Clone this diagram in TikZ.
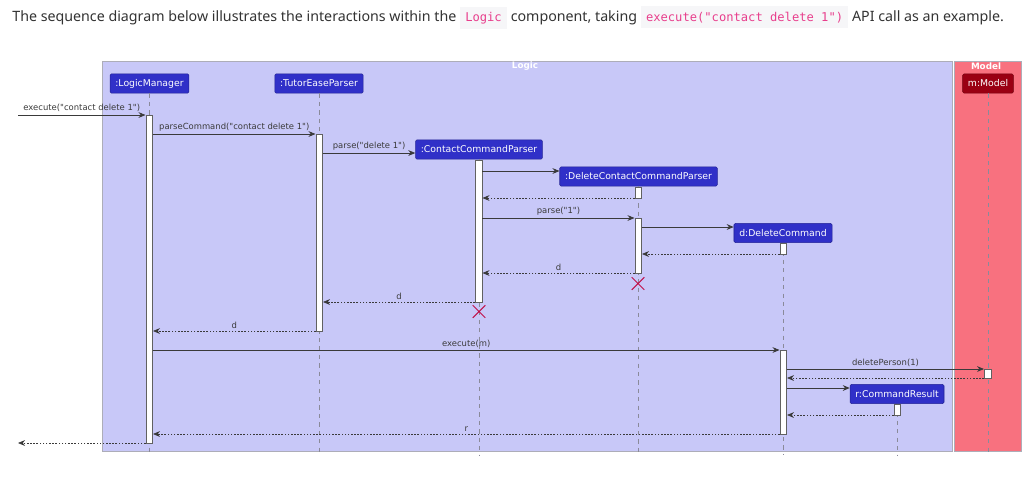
\documentclass[tikz,border=0pt]{standalone}
\usepackage{fontspec}
\setmainfont{Noto Sans}
\newfontfamily\umlfont{DejaVu Sans}
\newfontfamily\codefont{DejaVu Sans Mono}
\usetikzlibrary{arrows.meta,positioning,fit,shapes.misc}
\definecolor{seqink}{HTML}{3A3A3A}
\definecolor{seqhead}{HTML}{333333}
\definecolor{seqlogic}{HTML}{C8C8F8}
\definecolor{seqmodel}{HTML}{F8717F}
\definecolor{seqpart}{HTML}{3030C8}
\definecolor{seqmpart}{HTML}{9A0013}
\definecolor{seqkill}{HTML}{C0104A}
\definecolor{seqlife}{HTML}{8A8A9A}
\definecolor{codepink}{HTML}{E83E8C}
\definecolor{codebg}{HTML}{F6F6F8}
\newcommand{\codebit}[1]{{\setlength{\fboxsep}{3pt}\colorbox{codebg}{\codefont\fontsize{6.9}{8}\selectfont\color{codepink}#1}}}

\begin{document}
\begin{tikzpicture}[x=0.02cm,y=-0.02cm,line cap=butt,
  font=\umlfont\fontsize{4.8}{5.8}\selectfont,text=seqink,
  >={Stealth[length=4pt,width=3.3pt,inset=1.3pt]},
  part/.style={fill=seqpart,draw=seqpart!75!black,line width=0.3pt,rounded corners=0.8pt,
    text=white,font=\umlfont\fontsize{5.3}{6}\selectfont,inner xsep=3pt,inner ysep=0pt,minimum height=11pt},
  act/.style={fill=white,draw=seqink!80,line width=0.55pt,inner sep=0pt},
  life/.style={seqlife,line width=0.45pt,dash pattern=on 2.4pt off 2.4pt},
  msg/.style={->,seqink,line width=0.5pt},
  ret/.style={->,seqink,line width=0.45pt,dash pattern=on 0.9pt off 0.9pt},
  lbl/.style={midway,above,inner sep=1.4pt},
  kill/.style={cross out,draw=seqkill,line width=0.6pt,minimum size=6.6pt,inner sep=0pt},
  group/.style={draw=seqlife!70,line width=0.5pt},
  grouptitle/.style={text=white,font=\umlfont\bfseries\fontsize{5}{6}\selectfont}]
\useasboundingbox (0,0) rectangle (1033,478);
\fill[white] (0,0) rectangle (1033,478);

% caption
\node[anchor=base west,inner sep=0pt,text=seqhead,font=\fontsize{8.1}{10}\selectfont] (caption) at (12,21)
  {The sequence diagram below illustrates the interactions within the \codebit{Logic} component, taking \codebit{execute("contact delete 1")} API call as an example.};

% boxes
\draw[group,fill=seqlogic] (102,61) rectangle (952.5,451.5);
\draw[group,fill=seqmodel] (954,61) rectangle (1021.5,451.5);
\node[grouptitle] (logictitle) at (525,66) {Logic};
\node[grouptitle] (modeltitle) at (986,66) {Model};

% participants
\node[part] (lm) at (149.5,83.5) {:LogicManager};
\node[part] (tp) at (319,83.5) {:TutorEaseParser};
\node[part] (ccp) at (479,149.5) {:ContactCommandParser};
\node[part] (dccp) at (638.5,176.5) {:DeleteContactCommandParser};
\node[part] (dc) at (783,233) {d:DeleteCommand};
\node[part] (cr) at (897,394) {r:CommandResult};
\node[part,fill=seqmpart,draw=seqmpart!75!black] (m) at (988,83.5) {m:Model};

% lifelines
\foreach \p in {lm,tp,ccp,dccp,dc,cr,m}
  \draw[life] (\p.south) -- (\p.south |- 0,455);

% activations
\node[act,fit={(146,115) (152.5,443.5)}] (lmA) {};
\node[act,fit={(316,134) (322.5,331)}] (tpA) {};
\node[act,fit={(475.5,160) (482,302)}] (ccpA) {};
\node[act,fit={(635,187) (641.5,198)}] (dccpA) {};
\node[act,fit={(635,218) (641.5,273)}] (dccpB) {};
\node[act,fit={(780,243) (786.5,254)}] (dcA) {};
\node[act,fit={(780,350) (786.5,434)}] (dcB) {};
\node[act,fit={(984.5,369) (991,378.5)}] (mA) {};
\node[act,fit={(894,404) (900.5,415)}] (crA) {};
\node[kill] (dccpX) at (638,283.5) {};
\node[kill] (ccpX) at (479,311.5) {};

% messages
\coordinate (caller) at (18,115);
\coordinate (back) at (18,443);
\draw[msg] (caller) -- (lmA.west |- caller) node[lbl] {execute("contact delete 1")};
\draw[msg] (lmA.east |- 0,134) -- (tpA.west |- 0,134) node[lbl] {parseCommand("contact delete 1")};
\draw[msg] (tpA.east |- 0,153) -- (ccp.west |- 0,153) node[lbl] {parse("delete 1")};
\draw[msg] (ccpA.east |- 0,171) -- (dccp.west |- 0,171);
\draw[ret] (dccpA.west |- 0,198) -- (ccpA.east |- 0,198);
\draw[msg] (ccpA.east |- 0,218) -- (dccpB.west |- 0,218) node[lbl] {parse("1")};
\draw[msg] (dccpB.east |- 0,227) -- (dc.west |- 0,227);
\draw[ret] (dcA.west |- 0,254) -- (dccpB.east |- 0,254);
\draw[ret] (dccpB.west |- 0,273) -- (ccpA.east |- 0,273) node[lbl] {d};
\draw[ret] (ccpA.west |- 0,302) -- (tpA.east |- 0,302) node[lbl] {d};
\draw[ret] (tpA.west |- 0,331) -- (lmA.east |- 0,331) node[lbl] {d};
\draw[msg] (lmA.east |- 0,350) -- (dcB.west |- 0,350) node[lbl] {execute(m)};
\draw[msg] (dcB.east |- 0,369) -- (mA.west |- 0,369) node[lbl] {deletePerson(1)};
\draw[ret] (mA.west |- 0,378) -- (dcB.east |- 0,378);
\draw[msg] (dcB.east |- 0,388) -- (cr.west |- 0,388);
\draw[ret] (crA.west |- 0,415) -- (dcB.east |- 0,415);
\draw[ret] (dcB.west |- 0,434) -- (lmA.east |- 0,434) node[lbl] {r};
\draw[ret] (lmA.west |- back) -- (back);
\end{tikzpicture}
\end{document}
